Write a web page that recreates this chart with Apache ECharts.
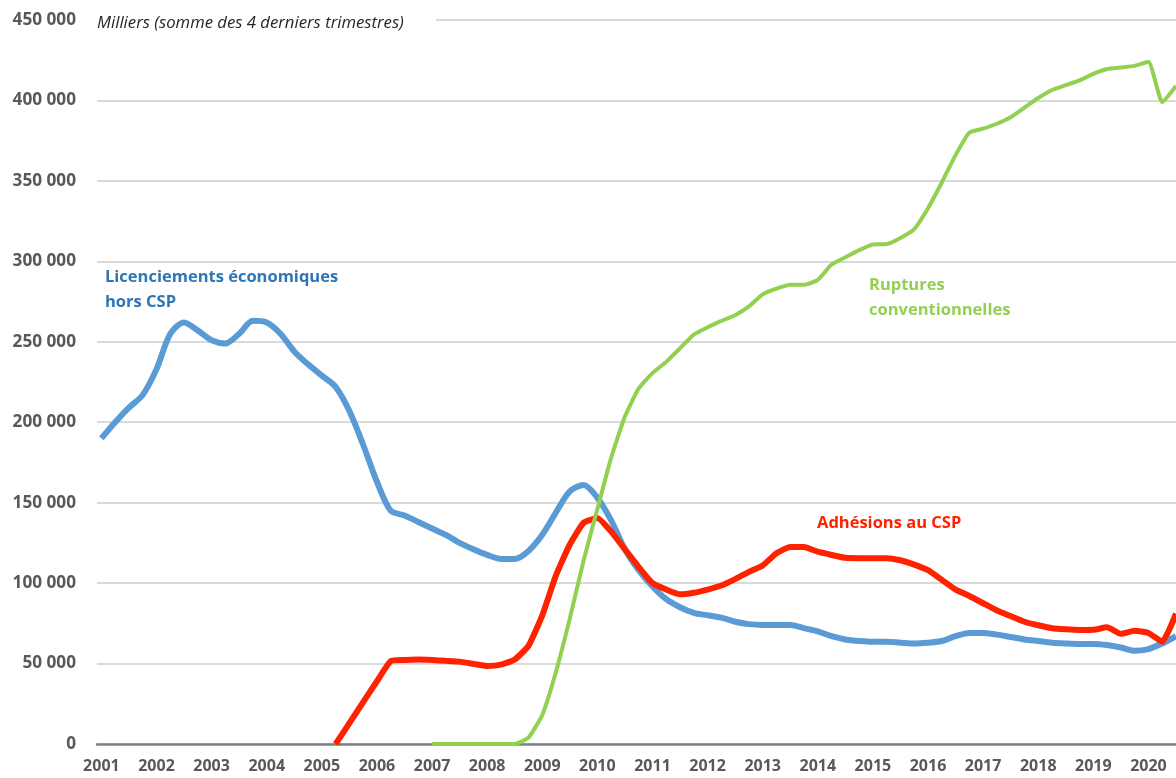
<!DOCTYPE html>
<html lang="fr">
<head>
    <meta charset="UTF-8">
    <title>Licenciements, ruptures conventionnelles et CSP</title>
    <script src="https://cdn.jsdelivr.net/npm/echarts@6/dist/echarts.min.js"></script>
    <style>
        body { margin: 0; background: #fff; }
    </style>
</head>
<body>
    <div id="main" style="width: 1176px; height: 778px;"></div>
    <script>
        // trimestres : 2001 T1 -> 2020 T3
        var firstYear = 2001;
        var yearLabels = [2001, 2002, 2003, 2004, 2005, 2006, 2007, 2008, 2009, 2010,
                          2011, 2012, 2013, 2014, 2015, 2016, 2017, 2018, 2019, 2020];

        // Licenciements économiques hors CSP (depuis 2001 T1)
        var licenciements = [
            190000, 200000, 209000, 217000,
            233000, 255000, 262000, 257000,
            251000, 249000, 255000, 263000,
            262000, 255000, 244000, 236000,
            229000, 222000, 207000, 186000,
            163000, 145000, 142000, 138000,
            134000, 130000, 125000, 121000,
            117500, 115000, 115000, 120000,
            130000, 144000, 157000, 161000,
            153000, 139000, 121000, 108000,
            98000, 90000, 85000, 81500,
            80000, 78500, 76000, 74500,
            74000, 74000, 74000, 72000,
            70000, 67000, 65000, 64000,
            63500, 63500, 63000, 62500,
            63000, 64000, 67000, 69000,
            69000, 68000, 66500, 65000,
            64000, 63000, 62500, 62200,
            62200, 61500, 60000, 58000,
            59000, 62500, 67000
        ];

        // Adhésions au CSP (depuis 2005 T2)
        var csp = [
            0, 13000, 26000,
            39000, 51500, 52200, 52500,
            52200, 51700, 51200, 49800,
            48500, 49300, 52500, 61000,
            80000, 105000, 124000, 137500,
            140500, 132000, 121000, 110000,
            100000, 96000, 93000, 94000,
            96000, 98500, 102500, 107000,
            111000, 118500, 122500, 122500,
            119500, 117500, 115700, 115500,
            115500, 115500, 114200, 111500,
            108000, 102000, 96000, 92000,
            87500, 83000, 79500, 76000,
            73800, 72000, 71300, 70900,
            71000, 72500, 68500, 70400,
            69000, 63600, 81000
        ];
        var cspStart = 2005.25;

        // Ruptures conventionnelles (depuis 2007 T1)
        var ruptures = [
            0, 0, 0, 0,
            0, 0, 0, 4000,
            18000, 45000, 78000, 114000,
            146000, 178000, 203500, 221000,
            230500, 237500, 246000, 254500,
            259000, 263000, 266500, 272000,
            279500, 283000, 285400, 285400,
            288500, 298000, 302500, 307000,
            310500, 310700, 314500, 320000,
            333000, 349000, 366000, 380000,
            382500, 385500, 389500, 395500,
            401500, 406500, 409500, 412500,
            416500, 419500, 420500, 421500,
            424000, 399000, 409000
        ];
        var rupturesStart = 2007;

        function toPairs(values, start) {
            return values.map(function (v, i) { return [start + i / 4, v]; });
        }

        function fmtThousands(v) {
            return String(v).replace(/\B(?=(\d{3})+(?!\d))/g, ' ');
        }

        var axisColor = '#595959';
        var font = 'Open Sans';

        var myChart = echarts.init(document.getElementById('main'));

        var option = {
            animation: false,
            backgroundColor: '#fff',
            title: {
                text: 'Milliers (somme des 4 derniers trimestres)',
                left: 97,
                top: 13,
                padding: [2, 32, 2, 0],
                backgroundColor: '#fff',
                textStyle: {
                    fontFamily: font,
                    fontStyle: 'italic',
                    fontWeight: 'normal',
                    fontSize: 16.7,
                    color: '#262626'
                }
            },
            grid: {
                left: 97,
                right: 0,
                top: 20,
                bottom: 34
            },
            xAxis: {
                type: 'value',
                min: 2000.92,
                max: 2020.5,
                splitLine: { show: false },
                axisTick: { show: false },
                axisLine: {
                    show: true,
                    lineStyle: { color: '#808080', width: 2.5 }
                },
                axisLabel: {
                    customValues: yearLabels,
                    formatter: function (v) { return String(v); },
                    margin: 14,
                    color: axisColor,
                    fontFamily: font,
                    fontWeight: 'bold',
                    fontSize: 16
                }
            },
            yAxis: {
                type: 'value',
                min: 0,
                max: 450000,
                interval: 50000,
                axisLine: { show: false },
                axisTick: { show: false },
                splitLine: {
                    lineStyle: { color: '#d9d9d9', width: 2 }
                },
                axisLabel: {
                    formatter: fmtThousands,
                    margin: 21,
                    color: axisColor,
                    fontFamily: font,
                    fontWeight: 'bold',
                    fontSize: 17.2
                }
            },
            series: [
                {
                    name: 'Licenciements économiques hors CSP',
                    type: 'line',
                    data: toPairs(licenciements, firstYear),
                    showSymbol: false,
                    smooth: 0.3,
                    lineStyle: { color: '#5b9bd5', width: 6 },
                    z: 2
                },
                {
                    name: 'Adhésions au CSP',
                    type: 'line',
                    data: toPairs(csp, cspStart),
                    showSymbol: false,
                    smooth: 0.15,
                    lineStyle: { color: '#ff2200', width: 6 },
                    z: 3
                },
                {
                    name: 'Ruptures conventionnelles',
                    type: 'line',
                    data: toPairs(ruptures, rupturesStart),
                    showSymbol: false,
                    smooth: 0.15,
                    lineStyle: { color: '#92d050', width: 4 },
                    z: 4
                }
            ],
            graphic: [
                {
                    type: 'text',
                    left: 105,
                    top: 265,
                    style: {
                        text: 'Licenciements économiques\nhors CSP',
                        fill: '#2e75b6',
                        font: 'bold 16.5px "Open Sans"',
                        lineHeight: 25
                    }
                },
                {
                    type: 'text',
                    left: 869,
                    top: 273,
                    style: {
                        text: 'Ruptures\nconventionnelles',
                        fill: '#92d050',
                        font: 'bold 16.5px "Open Sans"',
                        lineHeight: 25
                    }
                },
                {
                    type: 'text',
                    left: 817,
                    top: 511,
                    style: {
                        text: 'Adhésions au CSP',
                        fill: '#ff2200',
                        font: 'bold 16.5px "Open Sans"',
                        lineHeight: 25
                    }
                }
            ]
        };

        myChart.setOption(option);
    </script>
</body>
</html>
